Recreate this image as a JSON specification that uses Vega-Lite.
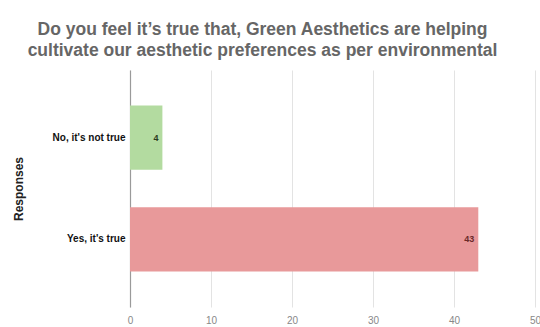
{
  "$schema": "https://vega.github.io/schema/vega-lite/v6.json",
  "autosize": "none",
  "width": 405,
  "height": 237,
  "padding": {"left": 130, "top": 70, "right": 5, "bottom": 20},
  "background": "white",
  "title": {
    "text": ["Do you feel it\u2019s true that, Green Aesthetics are helping", "cultivate our aesthetic preferences as per environmental"],
    "font": "Liberation Sans",
    "fontSize": 17.5,
    "fontWeight": "bold",
    "color": "#666666",
    "lineHeight": 21,
    "anchor": "middle",
    "dx": -70,
    "offset": 11
  },
  "data": {
    "values": [
      {"response": "No, it's not true", "count": 4},
      {"response": "Yes, it's true", "count": 43}
    ]
  },
  "encoding": {
    "y": {
      "field": "response",
      "type": "nominal",
      "sort": ["No, it's not true", "Yes, it's true"],
      "title": "Responses",
      "scale": {"paddingInner": 0.37, "paddingOuter": 0.35},
      "axis": {
        "domain": true,
        "domainColor": "#9a9a9a",
        "domainWidth": 1.2,
        "ticks": false,
        "labelPadding": 5,
        "labelFont": "Liberation Sans",
        "labelFontSize": 10,
        "labelFontWeight": "bold",
        "labelColor": "#111111",
        "titleFont": "Liberation Sans",
        "titleFontSize": 12,
        "titleFontWeight": "bold",
        "titleColor": "#222222",
        "titlePadding": 27
      }
    },
    "x": {
      "field": "count",
      "type": "quantitative",
      "scale": {"domain": [0, 50], "nice": false},
      "title": null,
      "axis": {
        "values": [0, 10, 20, 30, 40, 50],
        "domain": false,
        "ticks": false,
        "grid": true,
        "gridColor": "#e3e3e3",
        "gridWidth": 1,
        "labelPadding": 8,
        "labelFont": "Liberation Sans",
        "labelFontSize": 10,
        "labelColor": "#888888",
        "labelFlush": false
      }
    }
  },
  "layer": [
    {
      "mark": {"type": "bar"},
      "encoding": {
        "color": {
          "field": "response",
          "type": "nominal",
          "scale": {"domain": ["No, it's not true", "Yes, it's true"], "range": ["#b3dba0", "#e8999a"]},
          "legend": null
        }
      }
    },
    {
      "mark": {"type": "text", "align": "right", "dx": -4, "font": "Liberation Sans", "fontSize": 9, "fontWeight": "bold"},
      "encoding": {
        "text": {"field": "count", "type": "quantitative"},
        "color": {
          "condition": {"test": "datum.count > 10", "value": "#6a2a2a"},
          "value": "#2a3a20"
        }
      }
    }
  ],
  "config": {"view": {"stroke": null}}
}
